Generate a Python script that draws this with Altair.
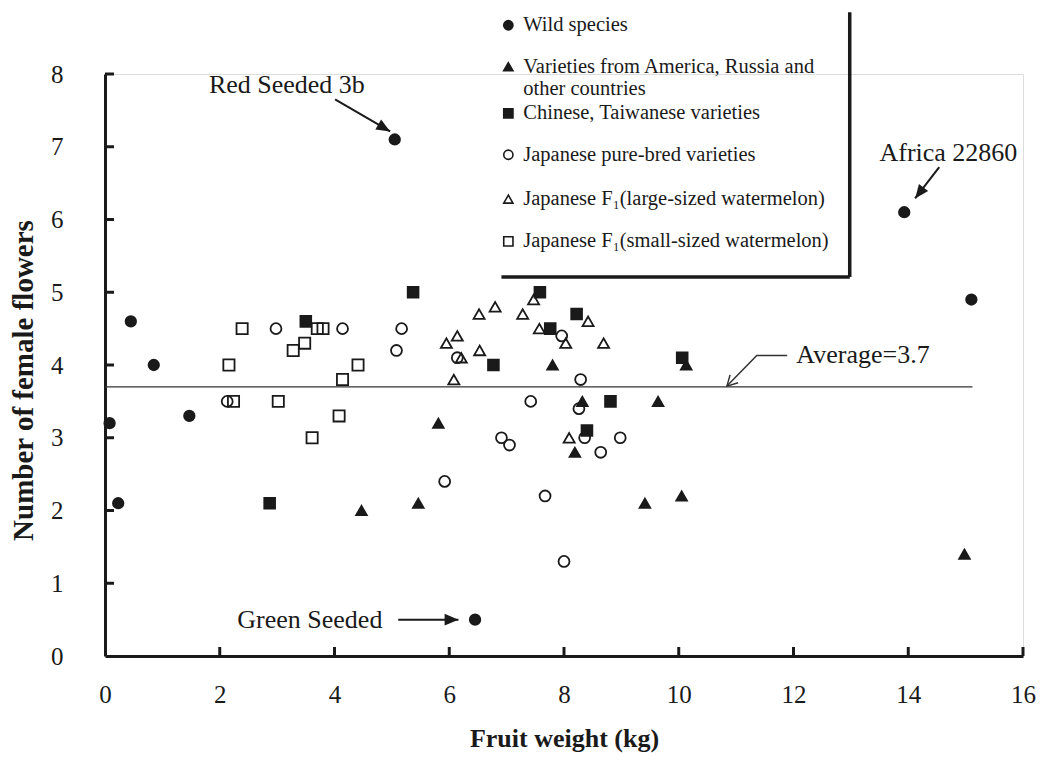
import math
import altair as alt
import pandas as pd

# ---------------- data ----------------
wild_x = [0.08, 0.23, 0.45, 0.85, 1.47, 5.05, 6.45, 13.93, 15.1]
wild_y = [3.2, 2.1, 4.6, 4.0, 3.3, 7.1, 0.5, 6.1, 4.9]

amer_x = [4.47, 5.46, 5.81, 7.8, 8.19, 8.32, 9.41, 9.64, 10.05, 10.13, 14.98]
amer_y = [2.0, 2.1, 3.2, 4.0, 2.8, 3.5, 2.1, 3.5, 2.2, 4.0, 1.4]

chn_x = [2.87, 3.5, 5.37, 6.77, 7.58, 7.76, 8.22, 8.4, 8.81, 10.06]
chn_y = [2.1, 4.6, 5.0, 4.0, 5.0, 4.5, 4.7, 3.1, 3.5, 4.1]

jpb_x = [2.13, 2.98, 4.14, 5.08, 5.17, 5.92, 6.14, 6.91, 7.05, 7.42, 7.67,
         7.96, 8.0, 8.26, 8.29, 8.36, 8.64, 8.98]
jpb_y = [3.5, 4.5, 4.5, 4.2, 4.5, 2.4, 4.1, 3.0, 2.9, 3.5, 2.2,
         4.4, 1.3, 3.4, 3.8, 3.0, 2.8, 3.0]

f1l_x = [5.95, 6.08, 6.14, 6.21, 6.52, 6.53, 6.8, 7.28, 7.47, 7.57, 8.03, 8.09, 8.42, 8.69]
f1l_y = [4.3, 3.8, 4.4, 4.1, 4.7, 4.2, 4.8, 4.7, 4.9, 4.5, 4.3, 3.0, 4.6, 4.3]

f1s_x = [2.16, 2.24, 2.39, 3.02, 3.28, 3.48, 3.61, 3.7, 3.8, 4.08, 4.14, 4.41]
f1s_y = [4.0, 3.5, 4.5, 3.5, 4.2, 4.3, 3.0, 4.5, 4.5, 3.3, 3.8, 4.0]

categories = [
    "Wild species",
    "Varieties from America, Russia and other countries",
    "Chinese, Taiwanese varieties",
    "Japanese pure-bred varieties",
    "Japanese F\u2081(large-sized  watermelon)",
    "Japanese F\u2081(small-sized watermelon)",
]
legend_lines = [
    "Wild species",
    "Varieties from America, Russia and",
    "other countries",
    "Chinese, Taiwanese varieties",
    "Japanese pure-bred varieties",
    "Japanese F\u2081(large-sized  watermelon)",
    "Japanese F\u2081(small-sized watermelon)",
]
average_value = 3.7
average_label = "Average=3.7"
x_ticks = list(range(0, 17, 2))
y_ticks = list(range(0, 9))

ann_labels = ["Red Seeded 3b", "Africa 22860", "Green Seeded"]

# ---------------- layout / style constants ----------------
FONT = "Liberation Serif"
W, H = 918, 582
PXX, PXY = W / 16.0, H / 8.0
INK = "#1a1a1a"

shapes = ["circle", "triangle-up", "square", "circle", "triangle-up", "square"]
fills = [INK, INK, INK, "transparent", "transparent", "transparent"]
sizes = [110, 125, 130, 100, 125, 130]

xs = [wild_x, amer_x, chn_x, jpb_x, f1l_x, f1s_x]
ys = [wild_y, amer_y, chn_y, jpb_y, f1l_y, f1s_y]
rows = []
for c, xv, yv in zip(categories, xs, ys):
    for a, b in zip(xv, yv):
        rows.append({"cat": c, "x": a, "y": b})
pts = pd.DataFrame(rows)

xscale = alt.Scale(domain=[0, 16], nice=False, zero=False)
yscale = alt.Scale(domain=[0, 8], nice=False, zero=False)
xaxis = alt.Axis(values=x_ticks, ticks=False, grid=False, domainWidth=3, domainColor=INK,
                 labelFont=FONT, labelFontSize=25, labelColor=INK, labelPadding=26,
                 labelFlush=False, title="Fruit weight (kg)", titleFont=FONT,
                 titleFontSize=26, titleFontWeight="bold", titleColor=INK,
                 titleY=90, titleBaseline="alphabetic")
yaxis = alt.Axis(values=y_ticks, ticks=False, grid=False, domainWidth=3, domainColor=INK,
                 labelFont=FONT, labelFontSize=25, labelColor=INK, labelPadding=42,
                 title="Number of female flowers", titleFont=FONT, titleFontSize=29,
                 titleFontWeight="bold", titleColor=INK, titleAngle=270,
                 titleX=-82, titleY=306, titleAlign="center", titleBaseline="middle")


def X(f):
    return alt.X(f, type="quantitative", scale=xscale, axis=xaxis)


def Y(f):
    return alt.Y(f, type="quantitative", scale=yscale, axis=yaxis)


cat_enc = dict(
    shape=alt.Shape("cat:N", scale=alt.Scale(domain=categories, range=shapes), legend=None),
    fill=alt.Fill("cat:N", scale=alt.Scale(domain=categories, range=fills), legend=None),
    size=alt.Size("cat:N", scale=alt.Scale(domain=categories, range=sizes), legend=None),
)

points = alt.Chart(pts).mark_point(stroke=INK, strokeWidth=1.8, opacity=1).encode(
    x=X("x"), y=Y("y"), **cat_enc)

# average line
avg_df = pd.DataFrame({"x": [0.0], "x2": [15.12], "y": [average_value]})
avg_line = alt.Chart(avg_df).mark_rule(color="#333", strokeWidth=1.4).encode(
    x=X("x"), x2="x2", y=Y("y"))

# inward ticks
xt = alt.Chart(pd.DataFrame({"x": x_ticks[1:]})).mark_rule(color=INK, strokeWidth=3).encode(
    x=X("x"), y=alt.value(H - 9), y2=alt.value(H))
yt = alt.Chart(pd.DataFrame({"y": y_ticks[1:]})).mark_rule(color=INK, strokeWidth=3).encode(
    y=Y("y"), x=alt.value(0), x2=alt.value(9))

# annotation arrows (start -> tip)
arrows = pd.DataFrame({
    "x": [4.01, 14.54, 5.11],
    "y": [7.65, 6.72, 0.50],
    "x2": [4.97, 14.12, 6.16],
    "y2": [7.21, 6.29, 0.50],
})


def ang(x1, y1, x2, y2):
    dx = (x2 - x1) * PXX
    dy = -(y2 - y1) * PXY
    return math.degrees(math.atan2(dx, -dy)) % 360


arrows["a"] = [ang(r.x, r.y, r.x2, r.y2) for r in arrows.itertuples()]
arrow_lines = alt.Chart(arrows).mark_rule(color=INK, strokeWidth=2).encode(
    x=X("x"), y=Y("y"), x2="x2", y2="y2")
arrow_heads = alt.Chart(arrows).mark_point(
    shape="M0,0L-0.42,1L0.42,1Z", filled=True, color=INK, opacity=1, size=760
).encode(x=X("x2"), y=Y("y2"), angle=alt.Angle("a:Q", scale=None))

# average pointer (bent line with open head)
avg_ptr = pd.DataFrame({"x": [11.89, 11.36, 10.84], "y": [4.13, 4.13, 3.71], "o": [0, 1, 2]})
avg_ptr_line = alt.Chart(avg_ptr).mark_line(color="#333", strokeWidth=1.5).encode(
    x=X("x"), y=Y("y"), order="o:Q")
head_df = pd.DataFrame({"x": [10.84], "y": [3.71]})
head_df["a"] = [ang(11.36, 4.13, 10.84, 3.71)]
avg_head = alt.Chart(head_df).mark_point(
    shape="M-0.55,1L0,0L0.55,1", filled=False, stroke="#333", strokeWidth=1.5,
    opacity=1, size=420
).encode(x=X("x"), y=Y("y"), angle=alt.Angle("a:Q", scale=None))

ann = pd.DataFrame({"t": ann_labels, "x": [3.17, 14.7, 3.57], "y": [7.85, 6.91, 0.50]})
ann_text = alt.Chart(ann).mark_text(font=FONT, fontSize=26, color=INK, align="center",
                                    baseline="middle").encode(x=X("x"), y=Y("y"), text="t")
avg_text = alt.Chart(pd.DataFrame({"t": [average_label], "x": [12.05], "y": [4.14]})).mark_text(
    font=FONT, fontSize=26, color=INK, align="left", baseline="middle").encode(
    x=X("x"), y=Y("y"), text="t")

# custom legend box
leg_sym = pd.DataFrame({"cat": categories, "x": [7.03] * 6,
                        "y": [8.67, 8.10, 7.46, 6.89, 6.28, 5.70]})
leg_symbols = alt.Chart(leg_sym).mark_point(stroke=INK, strokeWidth=1.6, opacity=1).encode(
    x=X("x"), y=Y("y"),
    shape=alt.Shape("cat:N", scale=alt.Scale(domain=categories, range=shapes), legend=None),
    fill=alt.Fill("cat:N", scale=alt.Scale(domain=categories, range=fills), legend=None),
    size=alt.value(85))
leg_txt = pd.DataFrame({"t": legend_lines, "x": [7.29] * 7,
                        "y": [8.67, 8.10, 7.80, 7.46, 6.89, 6.28, 5.70]})
leg_texts = alt.Chart(leg_txt).mark_text(font=FONT, fontSize=20.5, color=INK, align="left",
                                         baseline="middle").encode(
    x=X("x"), y=Y("y"), text="t")
border = pd.DataFrame({"x": [12.98, 6.91], "x2": [12.98, 12.98],
                       "y": [8.85, 5.21], "y2": [5.21, 5.21]})
leg_border = alt.Chart(border).mark_rule(color=INK, strokeWidth=3.5).encode(
    x=X("x"), y=Y("y"), x2="x2", y2="y2")

chart = alt.layer(
    avg_line, xt, yt, leg_border, leg_symbols, leg_texts,
    points, arrow_lines, arrow_heads, avg_ptr_line, avg_head, ann_text, avg_text
).properties(
    width=W, height=H,
    autosize=alt.AutoSizeParams(type="none"),
    padding={"left": 97, "top": 66, "right": 13, "bottom": 98},
).configure_view(stroke=None).configure(background="white")

chart.save("out.html", embed_options={"renderer": "svg", "actions": False})
